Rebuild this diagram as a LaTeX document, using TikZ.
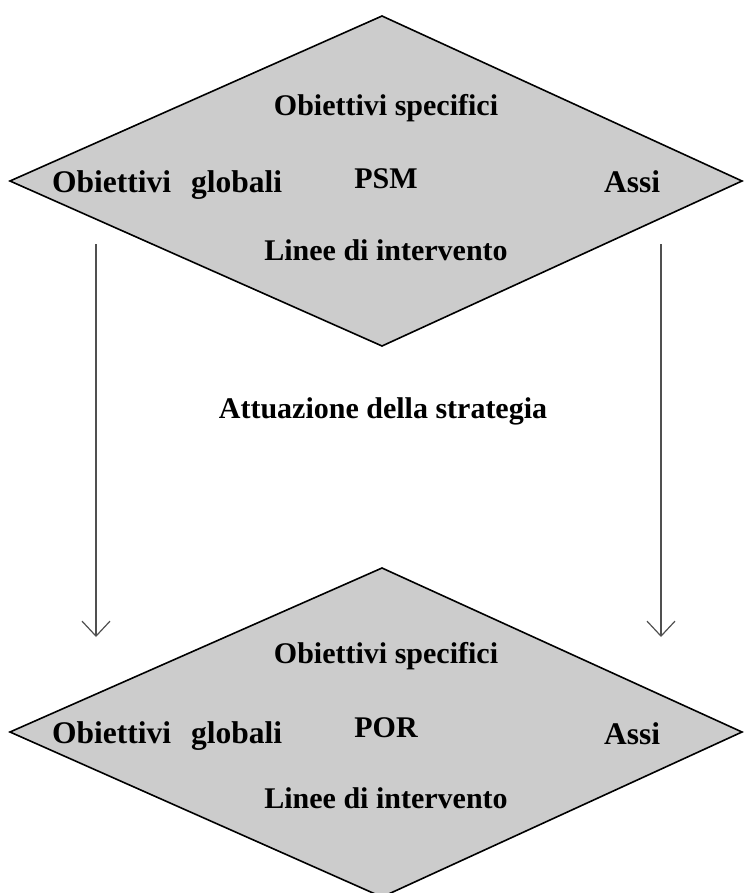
\documentclass[tikz,border=0pt]{standalone}
\usepackage{fontspec}
\setmainfont{Liberation Serif}
\usetikzlibrary{arrows.meta}
\definecolor{diamgray}{RGB}{204,204,204}
\definecolor{arrowgray}{RGB}{80,80,80}
\begin{document}
\begin{tikzpicture}[x=1bp,y=-1bp,
  diam/.style={draw=black, line width=1.6bp, fill=diamgray, line join=miter},
  lbl/.style={font=\fontsize{30bp}{36bp}\selectfont\bfseries, anchor=base, inner sep=0pt},
  lblbig/.style={lbl, font=\fontsize{31.5bp}{37bp}\selectfont\bfseries},
  flow/.style={draw=arrowgray, line width=1.2bp, -{Straight Barb[length=15bp,width=28bp,line width=1.2bp]}}]
\useasboundingbox (0,0) rectangle (744,893);
% top diamond (PSM)
\path[diam] (10,181) coordinate (psmL) -- (382,16) coordinate (psmT) -- (742,181) coordinate (psmR) -- (382,346) coordinate (psmB) -- cycle;
% bottom diamond (POR)
\path[diam] (10,732) coordinate (porL) -- (382,568) coordinate (porT) -- (742,732) coordinate (porR) -- (382,897) coordinate (porB) -- cycle;
% texts top
\node[lbl] (psmspec) at (386,115) {Obiettivi specifici};
\node[lblbig, anchor=base west] (psmglob) at (52,192) {Obiettivi\hspace{20bp}globali};
\node[lbl] (psm) at (386,188) {PSM};
\node[lblbig, anchor=base west] (psmassi) at (604,192) {Assi};
\node[lbl] (psmlinee) at (386,260) {Linee di intervento};
% middle
\node[lbl] (attuaz) at (383,418) {Attuazione della strategia};
% texts bottom
\node[lbl] (porspec) at (386,663) {Obiettivi specifici};
\node[lblbig, anchor=base west] (porglob) at (52,743) {Obiettivi\hspace{20bp}globali};
\node[lbl] (por) at (386,737) {POR};
\node[lblbig, anchor=base west] (porassi) at (604,744) {Assi};
\node[lbl] (porlinee) at (386,808) {Linee di intervento};
% arrows
\coordinate (aLs) at (96,244);
\coordinate (aLe) at (96,637);
\coordinate (aRs) at (661,244);
\coordinate (aRe) at (661,637);
\draw[flow] (aLs) -- (aLe);
\draw[flow] (aRs) -- (aRe);
\end{tikzpicture}
\end{document}
